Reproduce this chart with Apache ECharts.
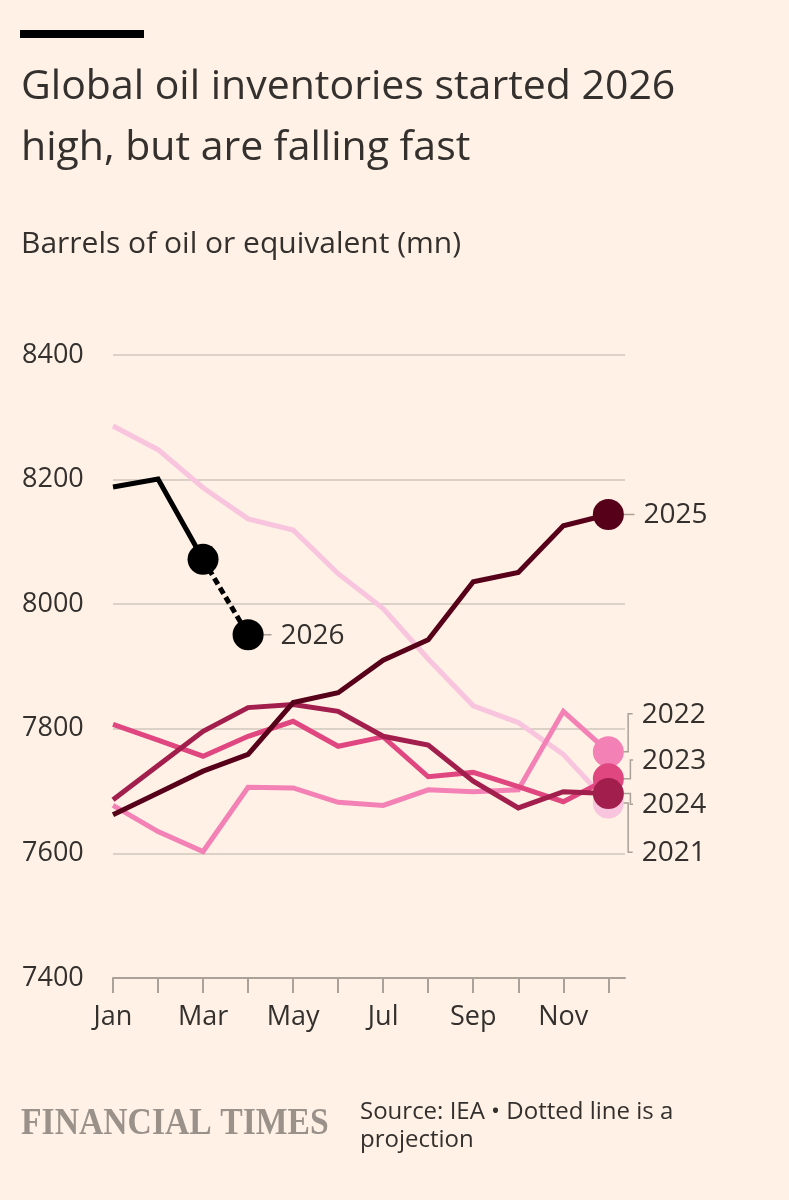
<!DOCTYPE html>
<html>
<head>
<meta charset="utf-8">
<script src="https://cdn.jsdelivr.net/npm/echarts@6/dist/echarts.min.js"></script>
<style>
  html, body { margin: 0; padding: 0; background: #fff1e5; }
  #chart { width: 789px; height: 1200px; }
</style>
</head>
<body>
<div id="chart"></div>
<script>
// 数据
const months = ['Jan', 'Feb', 'Mar', 'Apr', 'May', 'Jun', 'Jul', 'Aug', 'Sep', 'Oct', 'Nov', 'Dec']
const monthLabelIdx = [0, 2, 4, 6, 8, 10]
const yTicks = [7400, 7600, 7800, 8000, 8200, 8400]
const years = ['2021', '2022', '2023', '2024', '2025']
const v2021 = [8286, 8248, 8187, 8137, 8119, 8049, 7993, 7912, 7837, 7810, 7759, 7681]
const v2022 = [7677, 7635, 7603, 7706, 7705, 7682, 7677, 7702, 7699, 7702, 7828, 7763]
const v2023 = [7807, 7782, 7756, 7788, 7812, 7772, 7787, 7723, 7730, 7707, 7683, 7720]
const v2024 = [7686, 7741, 7796, 7834, 7839, 7828, 7788, 7774, 7716, 7673, 7699, 7696]
const v2025 = [7662, 7697, 7732, 7759, 7842, 7858, 7910, 7943, 8036, 8051, 8126, 8144]
const v2026 = [8188, 8201, 8072, 7951]
const projFrom = 2 // 虚线（预测）从三月开始

const colors = { 2021: '#f8c4de', 2022: '#f481b5', 2023: '#e0467f', 2024: '#a21e4c', 2025: '#57001a', 2026: '#000000' }

// 年份标签：引线拐点 bx，标签所在数值 tag，短横 stub
const last = (a) => a[a.length - 1]
const leaders = [
  { year: '2021', x: 11, v: last(v2021), bx: 11.44, tag: 7602, stub: 0.1 },
  { year: '2022', x: 11, v: last(v2022), bx: 11.44, tag: 7824, stub: 0.1 },
  { year: '2023', x: 11, v: last(v2023), bx: 11.49, tag: 7750, stub: 0.06 },
  { year: '2024', x: 11, v: last(v2024), bx: 11.49, tag: 7679, stub: 0.06 },
  { year: '2025', x: 11, v: last(v2025), bx: 11.58, tag: last(v2025), stub: 0 },
  { year: '2026', x: v2026.length - 1, v: last(v2026), bx: v2026.length - 1 + 0.52, tag: last(v2026), stub: 0 },
]

const FONT = '"Open Sans"'
const INK = '#33302e'
const GREY = '#aaa298'

const dotAt = (vals, idx, offset = 0) => vals.map((v, i) => (i === idx
  ? { value: [i + offset, v], symbol: 'circle', symbolSize: 31 }
  : { value: [i + offset, v] }))

let allSeries = [
  ...[v2021, v2022, v2023, v2024, v2025].map((vals, k) => ({
    type: 'line',
    name: years[k],
    z: 3 + k,
    symbol: 'none',
    data: dotAt(vals, vals.length - 1),
    lineStyle: { color: colors[years[k]], width: 5, join: 'miter' },
    itemStyle: { color: colors[years[k]] },
  })),
  // 2026 实线
  {
    type: 'line',
    z: 10,
    symbol: 'none',
    data: dotAt(v2026.slice(0, projFrom + 1), projFrom),
    lineStyle: { color: colors[2026], width: 5, join: 'miter' },
    itemStyle: { color: colors[2026] },
  },
  // 2026 预测（虚线）
  {
    type: 'line',
    z: 9,
    symbol: 'none',
    data: dotAt(v2026.slice(projFrom), v2026.length - 1 - projFrom, projFrom),
    lineStyle: { color: colors[2026], width: 5, type: [7, 4] },
    itemStyle: { color: colors[2026] },
  },
  // 标签引线
  {
    type: 'custom',
    z: 2,
    silent: true,
    clip: false,
    data: leaders.map((l) => [l.x, l.v]),
    renderItem(params, api) {
      const l = leaders[params.dataIndex]
      const p0 = api.coord([l.x, l.v])
      const p1 = api.coord([l.bx, l.v])
      const p2 = api.coord([l.bx, l.tag])
      const p3 = api.coord([l.bx + l.stub, l.tag])
      return {
        type: 'group',
        children: [
          { type: 'polyline', shape: { points: [p0, p1, p2, p3] }, style: { stroke: GREY, lineWidth: 1.5, fill: null } },
          {
            type: 'text',
            x: p3[0] + 9,
            y: p3[1] + 1,
            style: { text: l.year, fill: INK, font: `28px ${FONT}`, verticalAlign: 'middle' },
          },
        ],
      }
    },
  },
]

const chart = echarts.init(document.getElementById('chart'))
chart.setOption({
  backgroundColor: '#fff1e5',
  animation: false,
  grid: { left: 113, right: 164, top: 355, bottom: 222 },
  xAxis: {
    type: 'value',
    min: 0,
    max: 11.37,
    splitLine: { show: false },
    axisLine: { lineStyle: { color: GREY, width: 2 } },
    axisTick: { show: true, length: 15, lineStyle: { color: GREY, width: 2 }, customValues: months.map((m, i) => i) },
    axisLabel: {
      customValues: monthLabelIdx,
      formatter: (v) => months[v],
      color: INK,
      fontFamily: FONT,
      fontSize: 27,
      margin: 26,
    },
  },
  yAxis: {
    type: 'value',
    min: yTicks[0],
    max: last(yTicks),
    interval: 200,
    axisLine: { show: false },
    axisTick: { show: false },
    axisLabel: { align: 'left', margin: 91, color: INK, fontFamily: FONT, fontSize: 27, formatter: (v) => String(v) },
    splitLine: { lineStyle: { color: '#cfc6bc', width: 1.5 } },
  },
  graphic: [
    { type: 'rect', left: 20, top: 30, shape: { width: 124, height: 8 }, style: { fill: '#000' } },
    { type: 'text', x: 21, y: 87, style: { text: 'Global oil inventories started 2026', fill: INK, font: `41px ${FONT}`, verticalAlign: 'middle' } },
    { type: 'text', x: 21, y: 148, style: { text: 'high, but are falling fast', fill: INK, font: `41px ${FONT}`, verticalAlign: 'middle' } },
    { type: 'text', x: 21, y: 244, style: { text: 'Barrels of oil or equivalent (mn)', fill: INK, font: `30px ${FONT}`, verticalAlign: 'middle' } },
    { type: 'text', x: 21, y: 1124, scaleX: 0.91, style: { text: 'FINANCIAL TIMES', fill: '#99918a', font: `bold 37px "Liberation Serif"`, verticalAlign: 'middle' } },
    { type: 'text', x: 360, y: 1112, style: { text: 'Source: IEA • Dotted line is a', fill: INK, font: `24px ${FONT}`, verticalAlign: 'middle' } },
    { type: 'text', x: 360, y: 1140, style: { text: 'projection', fill: INK, font: `24px ${FONT}`, verticalAlign: 'middle' } },
  ],
  series: allSeries,
})
</script>
</body>
</html>
